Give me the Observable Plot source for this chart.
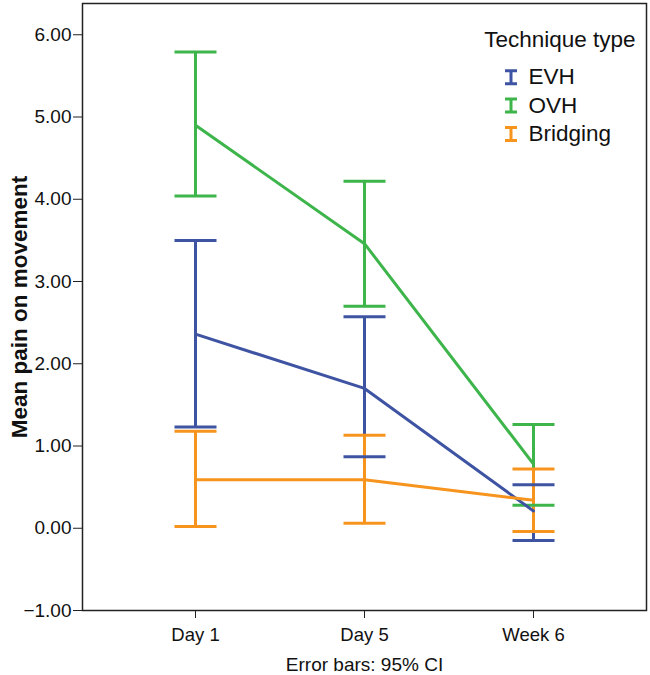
<!DOCTYPE html>
<html>
<head>
<meta charset="utf-8">
<script src="https://cdn.jsdelivr.net/npm/d3@7"></script>
<script src="https://cdn.jsdelivr.net/npm/@observablehq/plot@0.6"></script>
<style>
  html, body { margin: 0; padding: 0; background: #fff; }
  #chart svg { display: block; }
</style>
</head>
<body>
<div id="chart"></div>
<script>
// ---- Data ----
const timepoints = ["Day 1", "Day 5", "Week 6"];
const groups = ["EVH", "OVH", "Bridging"];
const groupColors = ["#3E54A3", "#3DB54A", "#F7941D"];

const evhMean  = [2.36, 1.70, 0.21];
const evhLower = [1.23, 0.87, -0.15];
const evhUpper = [3.50, 2.57, 0.53];

const ovhMean  = [4.90, 3.46, 0.78];
const ovhLower = [4.04, 2.70, 0.28];
const ovhUpper = [5.79, 4.22, 1.26];

const bridgingMean  = [0.59, 0.59, 0.34];
const bridgingLower = [0.02, 0.06, -0.04];
const bridgingUpper = [1.18, 1.13, 0.72];

const yTicks = [-1, 0, 1, 2, 3, 4, 5, 6];
const yLabel = "Mean pain on movement";
const legendTitle = "Technique type";
const caption = "Error bars: 95% CI";

// ---- Build table ----
const seriesData = {
  EVH: [evhMean, evhLower, evhUpper],
  OVH: [ovhMean, ovhLower, ovhUpper],
  Bridging: [bridgingMean, bridgingLower, bridgingUpper]
};
const rows = [];
for (const g of groups) {
  const [m, lo, hi] = seriesData[g];
  timepoints.forEach((t, i) => rows.push({group: g, time: t, mean: m[i], lower: lo[i], upper: hi[i]}));
}

const font = "'Liberation Sans', Arial, Helvetica, sans-serif";

// Horizontal cap symbol for error-bar ends
const capSymbol = {
  draw(ctx) { ctx.moveTo(-21, 0); ctx.lineTo(21, 0); }
};
// "I" error-bar symbol for legend
const errSymbol = {
  draw(ctx) {
    ctx.moveTo(-6, -6.5); ctx.lineTo(6, -6.5);
    ctx.moveTo(0, -6.5); ctx.lineTo(0, 6.5);
    ctx.moveTo(-6, 6.5); ctx.lineTo(6, 6.5);
  }
};

const legendMarks = [
  Plot.text([legendTitle], {frameAnchor: "top-right", text: d => d, dx: -11, dy: 36, textAnchor: "end", lineAnchor: "middle", fontSize: 22.5, fill: "#111"})
];
groups.forEach((g, i) => {
  legendMarks.push(Plot.dot([g], {frameAnchor: "top-right", dx: -135.5, dy: 73.7 + i * 28.4, symbol: errSymbol, r: 6, stroke: groupColors[i], strokeWidth: 3, fill: "none"}));
  legendMarks.push(Plot.text([g], {frameAnchor: "top-right", text: d => d, dx: -118, dy: 73.7 + i * 28.4, textAnchor: "start", lineAnchor: "middle", fontSize: 22.5, fill: "#111"}));
});

const chart = Plot.plot({
  width: 650,
  height: 675,
  marginLeft: 82,
  marginRight: 4,
  marginTop: 3,
  marginBottom: 65,
  style: {fontFamily: font, background: "#fff"},
  x: {type: "point", domain: timepoints, padding: 0.668},
  y: {domain: [-1, 6.38]},
  color: {domain: groups, range: groupColors},
  marks: [
    Plot.axisY({ticks: yTicks, tickFormat: d3.format(".2f"), tickSize: 9, tickPadding: 2, fontSize: 19, label: null, stroke: "#222", fill: "#111"}),
    Plot.axisX({tickSize: 8, tickPadding: 9, fontSize: 18.5, label: null, stroke: "#222", fill: "#111"}),
    Plot.ruleX(rows, {x: "time", y1: "lower", y2: "upper", stroke: "group", strokeWidth: 3}),
    Plot.dot(rows, {x: "time", y: "lower", stroke: "group", strokeWidth: 3, symbol: capSymbol, r: 10, fill: "none"}),
    Plot.dot(rows, {x: "time", y: "upper", stroke: "group", strokeWidth: 3, symbol: capSymbol, r: 10, fill: "none"}),
    Plot.line(rows, {x: "time", y: "mean", z: "group", stroke: "group", strokeWidth: 3}),
    Plot.frame({stroke: "#222", strokeWidth: 1.5}),
    Plot.text([yLabel], {frameAnchor: "left", text: d => d, rotate: -90, dx: -63, dy: 0, textAnchor: "middle", lineAnchor: "middle", fontSize: 22.5, fontWeight: "bold", fill: "#111"}),
    Plot.text([caption], {frameAnchor: "bottom", text: d => d, dy: 60, fontSize: 19, fill: "#111"}),
    ...legendMarks
  ]
});

document.getElementById("chart").appendChild(chart);
</script>
</body>
</html>
